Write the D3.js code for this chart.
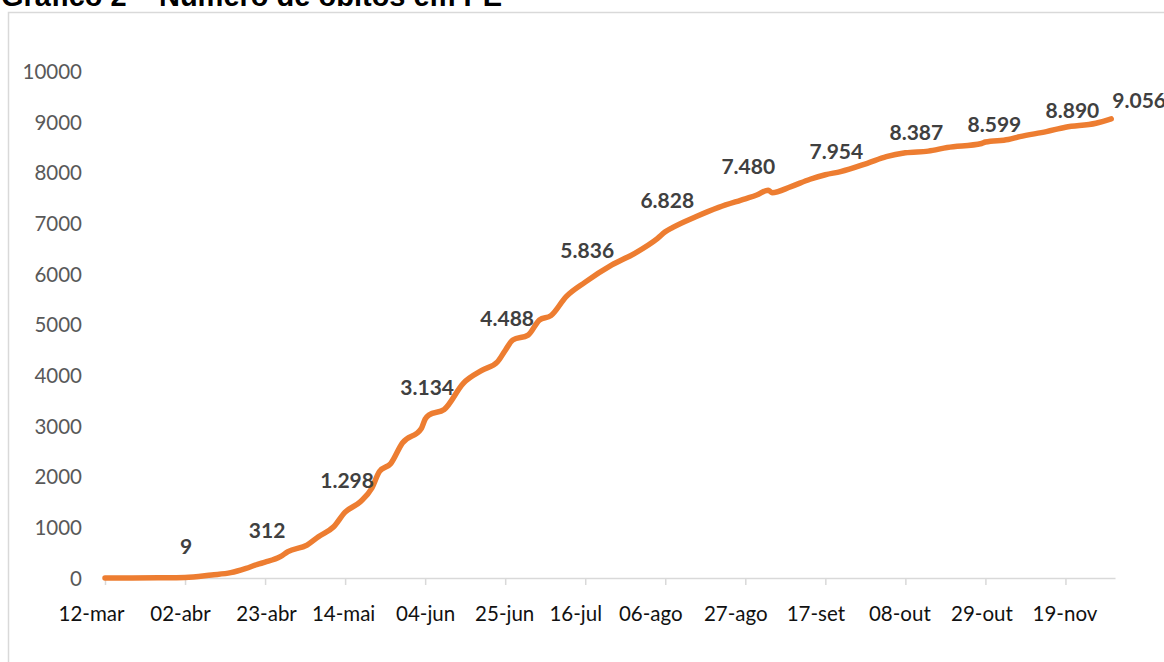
<!DOCTYPE html>
<html>
<head>
<meta charset="utf-8">
<script src="https://cdn.jsdelivr.net/npm/d3@7"></script>
<style>
  body { margin: 0; background: #fff; }
  svg { display: block; }
</style>
</head>
<body>
<div id="chart"></div>
<script>
// dates of the daily series and cumulative deaths
const dates = [
  '2020-03-12', '2020-03-19', '2020-03-26', '2020-04-02', '2020-04-09', '2020-04-14',
  '2020-04-18', '2020-04-21', '2020-04-23', '2020-04-27', '2020-04-29', '2020-05-04',
  '2020-05-07', '2020-05-11', '2020-05-14', '2020-05-18', '2020-05-21', '2020-05-23',
  '2020-05-26', '2020-05-29', '2020-06-03', '2020-06-04', '2020-06-05', '2020-06-09',
  '2020-06-14', '2020-06-19', '2020-06-23', '2020-06-25', '2020-06-27', '2020-07-01',
  '2020-07-04', '2020-07-07', '2020-07-11', '2020-07-16', '2020-07-23', '2020-07-29',
  '2020-08-04', '2020-08-06', '2020-08-08', '2020-08-14', '2020-08-20', '2020-08-27',
  '2020-08-30', '2020-09-02', '2020-09-03', '2020-09-08', '2020-09-13', '2020-09-17',
  '2020-09-21', '2020-09-28', '2020-10-03', '2020-10-08', '2020-10-14', '2020-10-19',
  '2020-10-28', '2020-10-29', '2020-11-04', '2020-11-07', '2020-11-14', '2020-11-19',
  '2020-11-27', '2020-12-01'
];
const obitos = [
  0, 0, 3, 9, 60, 105,
  190, 270, 312, 420, 520, 650,
  815, 1010, 1298, 1505, 1770, 2100,
  2260, 2660, 2950, 3134, 3215, 3325,
  3840, 4100, 4265, 4488, 4695, 4790,
  5090, 5175, 5550, 5836, 6175, 6405,
  6700, 6828, 6915, 7125, 7310, 7480,
  7555, 7650, 7600, 7720, 7865, 7954,
  8015, 8180, 8310, 8387, 8420, 8490,
  8570, 8599, 8650, 8705, 8805, 8890,
  8970, 9056
];

// x axis categories
const tickDates = [
  '2020-03-12', '2020-04-02', '2020-04-23', '2020-05-14', '2020-06-04', '2020-06-25',
  '2020-07-16', '2020-08-06', '2020-08-27', '2020-09-17', '2020-10-08', '2020-10-29', '2020-11-19'
];
const tickLabels = [
  '12-mar', '02-abr', '23-abr', '14-mai', '04-jun', '25-jun',
  '16-jul', '06-ago', '27-ago', '17-set', '08-out', '29-out', '19-nov'
];
const yTicks = [0, 1000, 2000, 3000, 4000, 5000, 6000, 7000, 8000, 9000, 10000];

// data labels
const labelDates = [
  '2020-04-02', '2020-04-23', '2020-05-14', '2020-06-04', '2020-06-25', '2020-07-16',
  '2020-08-06', '2020-08-27', '2020-09-17', '2020-10-08', '2020-10-29', '2020-11-19', '2020-12-01'
];
const labelValues = [9, 312, 1298, 3134, 4488, 5836, 6828, 7480, 7954, 8387, 8599, 8890, 9056];
const labelTexts = ['9', '312', '1.298', '3.134', '4.488', '5.836', '6.828', '7.480', '7.954', '8.387', '8.599', '8.890', '9.056'];

// label nudges (dx, dy) like the hand placed ones in the original
const labelNudge = [
  [1, -24], [2, -24], [2, -24], [2, -24], [2, -24], [2, -24], [2, -24],
  [3, -25], [11, -16], [11, -13], [9, -10], [7, -9], [28, -11]
];
// excel puts the tick labels a bit off their ticks
const tickNudge = [-14, -5, 1, -2, 0, -1, -10, -15, -10, -10, -6, -4, -1];

const parse = d3.timeParse('%Y-%m-%d');
const series = dates.map((d, i) => ({ date: parse(d), value: obitos[i] }));

const width = 1164, height = 662;
const svg = d3.select('#chart').append('svg')
  .attr('width', width)
  .attr('height', height);

// chart frame
svg.append('rect')
  .attr('x', 8.5).attr('y', 12.5)
  .attr('width', 1200).attr('height', 700)
  .attr('fill', 'none')
  .attr('stroke', '#d9d9d9')
  .attr('stroke-width', 1.5);

// title (cut at the top in the original)
svg.append('text')
  .attr('x', 1).attr('y', 6)
  .style('font-family', '"Liberation Sans", Arial, sans-serif')
  .style('font-weight', 'bold')
  .style('font-size', '29px')
  .attr('fill', '#000')
  .text('Gráfico 2 – Número de óbitos em PE');

const x = d3.scaleTime()
  .domain([parse('2020-03-12'), parse('2020-12-02')])
  .range([105, 1115]);

const y = d3.scaleLinear()
  .domain([0, 10000])
  .range([578, 71]);

// x axis
const xAxis = d3.axisBottom(x)
  .tickValues(tickDates.map(parse))
  .tickFormat((d, i) => tickLabels[i])
  .tickSizeInner(7)
  .tickSizeOuter(0);

const gx = svg.append('g')
  .attr('transform', `translate(0,${y(0)})`)
  .call(xAxis);
gx.select('.domain').attr('stroke', '#d9d9d9').attr('stroke-width', 1.5);
gx.selectAll('.tick line').attr('stroke', '#d9d9d9').attr('stroke-width', 1.5);
gx.selectAll('.tick text')
  .attr('x', (d, i) => tickNudge[i])
  .attr('y', 43).attr('dy', 0)
  .attr('fill', '#111')
  .style('font-family', 'Lato, sans-serif')
  .style('font-size', '20.5px');

// y axis
const yAxis = d3.axisLeft(y)
  .tickValues(yTicks)
  .tickFormat(d3.format('d'))
  .tickSize(0)
  .tickPadding(23);

const gy = svg.append('g')
  .attr('transform', 'translate(105,0)')
  .call(yAxis);
gy.select('.domain').remove();
gy.selectAll('.tick text')
  .attr('dy', '0.36em')
  .attr('fill', '#595959')
  .style('font-family', 'Lato, sans-serif')
  .style('font-size', '20.5px');

// line
const line = d3.line()
  .x(d => x(d.date))
  .y(d => y(d.value))
  .curve(d3.curveMonotoneX);

svg.append('path')
  .datum(series)
  .attr('fill', 'none')
  .attr('stroke', '#ED7D31')
  .attr('stroke-width', 5.5)
  .attr('stroke-linecap', 'round')
  .attr('stroke-linejoin', 'round')
  .attr('d', line);

// data labels
svg.append('g')
  .selectAll('text')
  .data(labelValues)
  .enter().append('text')
    .attr('x', (d, i) => x(parse(labelDates[i])) + labelNudge[i][0])
    .attr('y', (d, i) => y(d) + labelNudge[i][1])
    .attr('text-anchor', 'middle')
    .attr('fill', '#404040')
    .style('font-family', 'Lato, sans-serif')
    .style('font-weight', 'bold')
    .style('font-size', '21px')
    .text((d, i) => labelTexts[i]);
</script>
</body>
</html>
